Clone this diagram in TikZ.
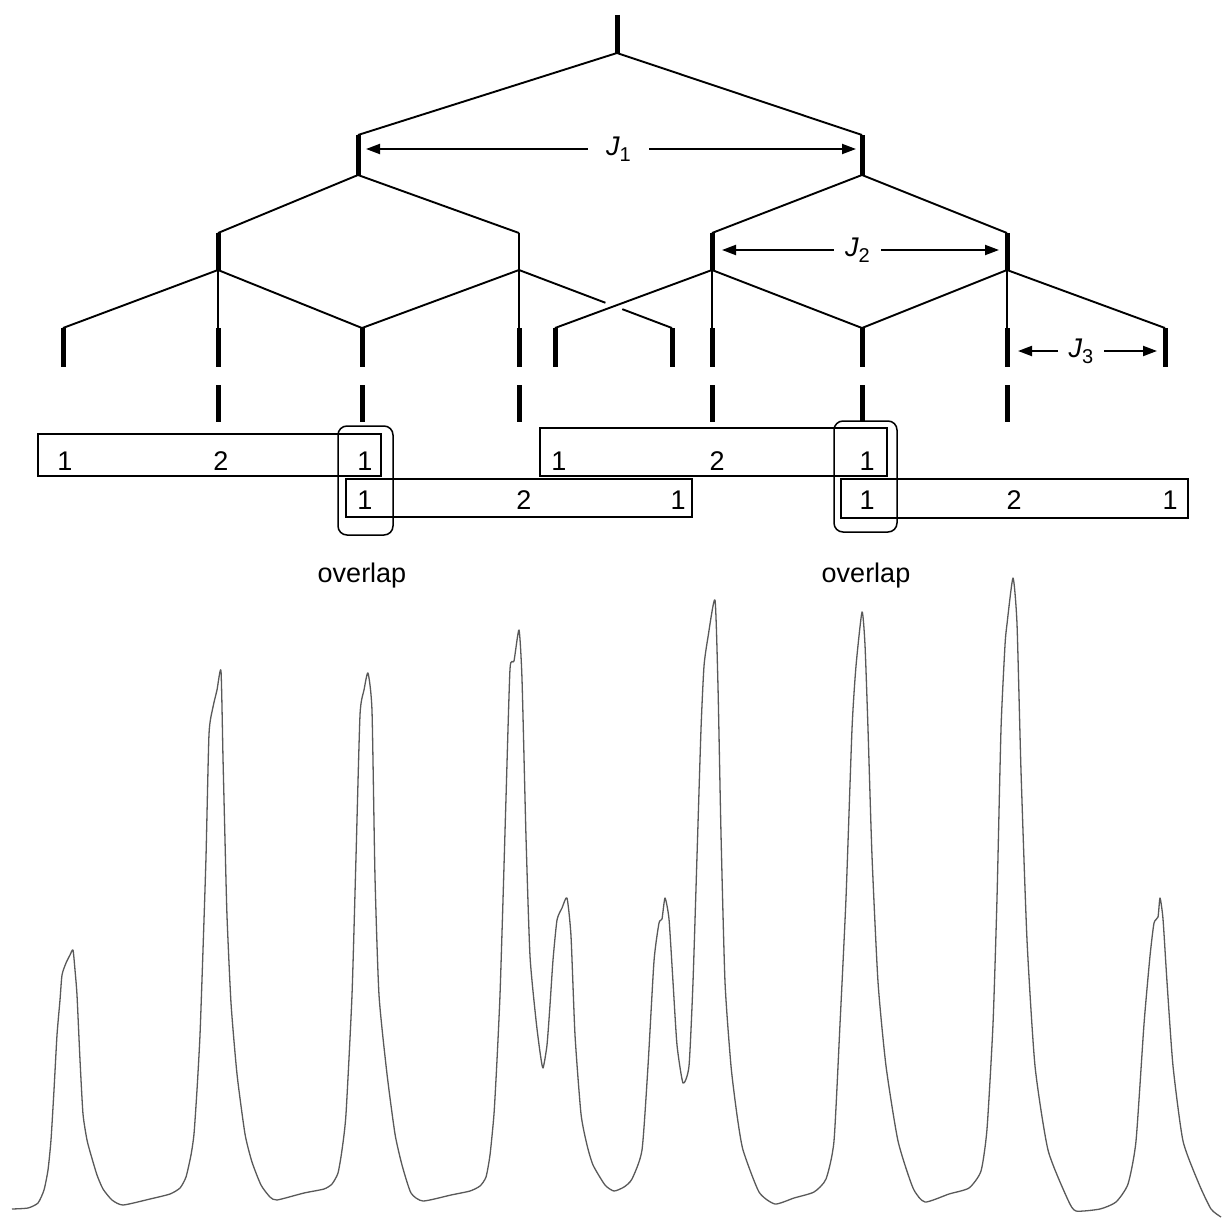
\documentclass[tikz,border=0pt]{standalone}
\usepackage{fontspec}
\setmainfont{Liberation Sans}
\usetikzlibrary{arrows.meta,calc}
\newcommand\jlab[1]{{\itshape J}\raisebox{-6pt}{\fontsize{20}{20}\selectfont #1}}
\begin{document}
\begin{tikzpicture}[x=1pt,y=-1pt,
  slant/.style={line width=1.9pt},
  thickbar/.style={line width=5pt},
  thinbar/.style={line width=1.2pt},
  arr/.style={line width=2pt,-{Triangle[length=14pt,width=10pt]}},
  box/.style={draw,line width=1.5pt,inner sep=0pt},
  ovl/.style={draw,line width=1.5pt,rounded corners=9pt,inner sep=0pt},
  lab/.style={font=\fontsize{27}{32}\selectfont,inner sep=0pt},
  curve/.style={draw=black!65,line width=1.3pt,line join=round}
]
\fill[white] (0,0) rectangle (1222,1223);
\useasboundingbox (0,0) rectangle (1222,1223);

% ---------- tree joints ----------
\coordinate (rt) at (617,15);  \coordinate (r) at (617,53);
\coordinate (aT) at (358,135); \coordinate (aB) at (358,175);
\coordinate (bT) at (862,135); \coordinate (bB) at (862,175);
\coordinate (aaT) at (218,233); \coordinate (aaB) at (218,270);
\coordinate (abT) at (519,233); \coordinate (abB) at (519,270);
\coordinate (baT) at (712,233); \coordinate (baB) at (712,270);
\coordinate (bbT) at (1007,233); \coordinate (bbB) at (1007,270);

\foreach \i/\xx in {1/63,2/218,3/362,4/519,5/555,6/672,7/712,8/862,9/1007,10/1165}{
  \coordinate (t\i) at (\xx,328); \coordinate (u\i) at (\xx,367);
}
\foreach \i/\xx in {1/218,2/362,3/519,4/712,5/862,6/1007}{
  \coordinate (v\i) at (\xx,385); \coordinate (w\i) at (\xx,422);
}

% thick bars
\draw[thickbar] (rt) -- (r);
\draw[thickbar] (aT) -- (aB);
\draw[thickbar] (bT) -- (bB);
\draw[thickbar] (aaT) -- (aaB);
\draw[thickbar] (baT) -- (baB);
\draw[thickbar] (bbT) -- (bbB);
\foreach \i in {1,...,10}{ \draw[thickbar] (t\i) -- (u\i); }
\foreach \i in {1,...,6}{ \draw[thickbar] (v\i) -- (w\i); }

% thin verticals
\draw[thinbar] (aaB) -- (t2);
\draw[thinbar] (abT) -- (t4);
\draw[thinbar] (baB) -- (t7);
\draw[thinbar] (bbB) -- (t9);

% slanted branches
\draw[slant] (aT) -- (r) -- (bT);
\draw[slant] (aaT) -- (aB) -- (abT);
\draw[slant] (baT) -- (bB) -- (bbT);
\draw[slant] (t1) -- (aaB) -- (t3) -- (abB);
\draw[slant] (t5) -- (baB) -- (t8) -- (bbB) -- (t10);
\draw[slant] (abB) -- ($(abB)!0.565!(t6)$);
\draw[slant] ($(abB)!0.675!(t6)$) -- (t6);

% ---------- J labels ----------
\node[lab,inner xsep=18pt] (J1) at (618.5,149) {\jlab{1}};
\coordinate (j1l) at (366,149); \coordinate (j1r) at (856,149);
\draw[arr] (J1) -- (j1l);
\draw[arr] (J1) -- (j1r);

\node[lab,inner xsep=11pt] (J2) at (857.5,250) {\jlab{2}};
\coordinate (j2l) at (722,250); \coordinate (j2r) at (999,250);
\draw[arr] (J2) -- (j2l);
\draw[arr] (J2) -- (j2r);

\node[lab,inner xsep=10.5pt] (J3) at (1081,351) {\jlab{3}};
\coordinate (j3l) at (1018,351); \coordinate (j3r) at (1157,351);
\draw[arr] (J3) -- (j3l);
\draw[arr] (J3) -- (j3r);

% ---------- boxes ----------
\node[box,minimum width=343pt,minimum height=42pt] (B1) at (209.5,455) {};
\node[box,minimum width=346pt,minimum height=38pt] (B2) at (519,498) {};
\node[box,minimum width=347pt,minimum height=48pt] (B3) at (713.5,452) {};
\node[box,minimum width=347pt,minimum height=39pt] (B4) at (1014.5,498.5) {};

\node[ovl,minimum width=55pt,minimum height=109pt] (O1) at (365.5,480.5) {};
\node[ovl,minimum width=63pt,minimum height=111pt] (O2) at (865.5,476.5) {};

\node[lab] (b1a) at (65,461) {1};
\node[lab] (b1b) at (221,461) {2};
\node[lab] (b1c) at (365,461) {1};
\node[lab] (b2a) at (365,500) {1};
\node[lab] (b2b) at (524,500) {2};
\node[lab] (b2c) at (678,500) {1};
\node[lab] (b3a) at (559,461) {1};
\node[lab] (b3b) at (717,461) {2};
\node[lab] (b3c) at (867,461) {1};
\node[lab] (b4a) at (867,500) {1};
\node[lab] (b4b) at (1014,500) {2};
\node[lab] (b4c) at (1170,500) {1};

\node[lab,anchor=base] (ov1) at (362,582) {overlap};
\node[lab,anchor=base] (ov2) at (866,582) {overlap};

% ---------- trace ----------
\draw[curve] plot[smooth,tension=0.35] coordinates {
(12,1209) (28,1208) (38,1203) (44,1190) (48,1170) (51,1140) (54,1090) (57,1035)
(60,1000) (62,975) (66,963) (70,955) (73,950) (75,970) (77,995) (80,1060)
(83,1114) (87,1140) (91,1155) (97,1175) (103,1189) (112,1200) (123,1205)
(150,1199) (170,1194) (180,1188) (186,1177) (191,1155) (194,1134) (197,1090)
(200,1035) (203,950) (206,857) (209,734) (213,707) (217,690) (221,671)
(223,758) (225,840) (227,916) (231,1003) (237,1074) (245,1134) (252,1162)
(261,1185) (270,1197) (277,1200) (304,1193) (324,1189) (332,1184) (338,1173)
(342,1150) (346,1114) (352,995) (356,857) (360,715) (364,690) (368,673)
(372,711) (375,877) (379,995) (387,1074) (395,1134) (402,1165) (411,1193)
(423,1201) (451,1195) (470,1191) (480,1186) (486,1177) (490,1155) (494,1114)
(497,1060) (500,995) (503,900) (506,798) (510,669) (514,661) (519,630)
(522,679) (526,837) (530,956) (536,1020) (540,1052) (543,1068) (547,1045)
(550,1005) (553,960) (557,920) (562,908) (567,898) (571,936) (575,1035)
(581,1114) (587,1145) (593,1165) (605,1185) (614,1191) (624,1187) (632,1179)
(642,1150) (648,1066) (654,961) (659,923) (662,919) (665,898) (669,919)
(673,982) (677,1045) (683,1083) (689,1066) (693,982) (697,856) (701,729)
(704,666) (708,637) (715,600) (718,687) (721,834) (725,982) (731,1066)
(737,1115) (743,1150) (759,1192) (775,1204) (794,1198) (814,1192) (826,1179)
(834,1141) (840,1024) (846,898) (852,729) (856,666) (862,612) (865,645)
(868,729) (872,856) (878,982) (886,1066) (898,1141) (913,1188) (925,1202)
(949,1194) (969,1188) (981,1171) (987,1129) (993,1024) (997,898) (1001,729)
(1005,645) (1007,624) (1013,578) (1017,624) (1021,771) (1027,940) (1035,1066)
(1048,1150) (1068,1200) (1076,1211) (1100,1209) (1116,1202) (1128,1184)
(1136,1141) (1144,1024) (1150,956) (1154,923) (1158,917) (1160,898)
(1163,919) (1167,982) (1173,1066) (1183,1141) (1199,1184) (1211,1209) (1221,1217)
};
\end{tikzpicture}
\end{document}
